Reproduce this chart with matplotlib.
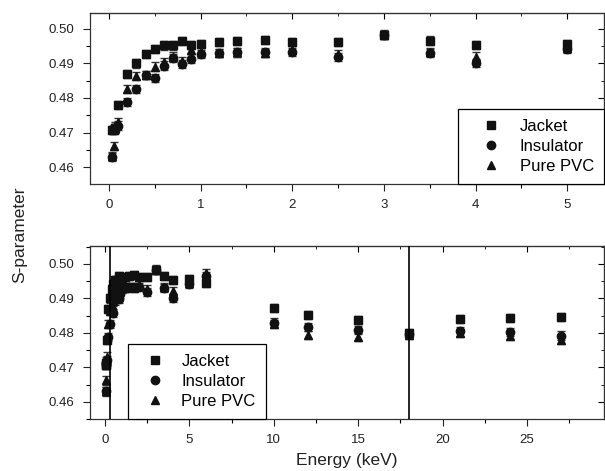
import numpy as np
import matplotlib
matplotlib.use('Agg')
import matplotlib.pyplot as plt

plt.rcParams['font.family'] = ['Liberation Sans', 'DejaVu Sans']

# energias (keV) do painel de cima
energia = [0.03, 0.05, 0.07, 0.1, 0.2, 0.3, 0.4, 0.5, 0.6, 0.7, 0.8, 0.9, 1.0,
           1.2, 1.4, 1.7, 2.0, 2.5, 3.0, 3.5, 4.0, 5.0]
jacket = [0.4707, 0.4708, 0.4712, 0.4780, 0.4870, 0.4900, 0.4927, 0.4942, 0.4952,
          0.4952, 0.4964, 0.4954, 0.4957, 0.4963, 0.4965, 0.4968, 0.4963, 0.4963,
          0.4983, 0.4966, 0.4953, 0.4955]
insulator = [0.4630, 0.4710, 0.4712, 0.4720, 0.4789, 0.4825, 0.4866, 0.4857, 0.4894,
             0.4915, 0.4898, 0.4914, 0.4928, 0.4931, 0.4932, 0.4932, 0.4934, 0.4918,
             0.4982, 0.4930, 0.4902, 0.4942]
pvc = [0.4632, 0.4662, 0.4718, 0.4731, 0.4825, 0.4864, 0.4866, 0.4891, 0.4903,
       0.4920, 0.4907, 0.4938, 0.4932, 0.4930, 0.4932, 0.4930, 0.4938, 0.4928,
       0.4984, 0.4934, 0.4920, 0.4945]

# pontos extras que aparecem so no painel de baixo
energia_alta = [6, 10, 12, 15, 18, 21, 24, 27]
jacket_alta = [0.4944, 0.4872, 0.4852, 0.4838, 0.4800, 0.4840, 0.4844, 0.4845]
insulator_alta = [0.4965, 0.4830, 0.4818, 0.4809, 0.4797, 0.4804, 0.4802, 0.4792]
pvc_alta = [0.4973, 0.4826, 0.4794, 0.4789, 0.4795, 0.4799, 0.4790, 0.4780]

erro = 0.0012
linhas_verticais = [0.3, 18]

series = [('Jacket', 's'), ('Insulator', 'o'), ('Pure PVC', '^')]

fig = plt.figure(figsize=(6.05, 4.71), dpi=100)
ax1 = fig.add_axes([90/605, 1-184/471, 514/605, 171/471])
ax2 = fig.add_axes([90/605, 1-419/471, 514/605, 173/471])

def desenha(ax, x, ys):
    handles = []
    for (nome, mk), y in zip(series, ys):
        ax.errorbar(x, y, yerr=erro, fmt='none', ecolor='#333333', elinewidth=1,
                    capsize=3, capthick=1, zorder=2)
        h, = ax.plot(x, y, mk, color='#111111', markersize=6, linestyle='none',
                     label=nome, zorder=3)
        handles.append(h)
    return handles

h = desenha(ax1, energia, [jacket, insulator, pvc])
desenha(ax2, energia + energia_alta,
        [jacket + jacket_alta, insulator + insulator_alta, pvc + pvc_alta])

for xv in linhas_verticais:
    ax2.axvline(xv, color='black', linewidth=1.2, zorder=4)

ax1.set_xlim(-0.207, 5.40)
ax1.set_ylim(0.4551, 0.5046)
ax2.set_xlim(-0.89, 29.56)
ax2.set_ylim(0.4550, 0.5052)

ax1.xaxis.set_major_locator(plt.MultipleLocator(1))
ax1.xaxis.set_minor_locator(plt.MultipleLocator(0.5))
ax2.xaxis.set_major_locator(plt.MultipleLocator(5))
ax2.xaxis.set_minor_locator(plt.MultipleLocator(2.5))

for ax in [ax1, ax2]:
    ax.yaxis.set_major_locator(plt.MultipleLocator(0.01))
    ax.yaxis.set_minor_locator(plt.MultipleLocator(0.005))
    ax.yaxis.set_major_formatter(plt.FormatStrFormatter('%.2f'))
    ax.tick_params(which='major', direction='out', length=5, width=0.8,
                   labelsize=9.5, colors='#222222', pad=6)
    ax.tick_params(which='minor', direction='out', length=3, width=0.8)
    for s in ax.spines.values():
        s.set_linewidth(0.9)
        s.set_color('#333333')
    # ticks espelhados para dentro em cima e na direita
    top = ax.secondary_xaxis('top')
    top.xaxis.set_major_locator(ax.xaxis.get_major_locator())
    top.xaxis.set_minor_locator(ax.xaxis.get_minor_locator())
    top.tick_params(which='both', direction='in', labeltop=False, length=4)
    top.tick_params(which='minor', length=2.5)
    right = ax.secondary_yaxis('right')
    right.yaxis.set_major_locator(plt.MultipleLocator(0.01))
    right.yaxis.set_minor_locator(plt.MultipleLocator(0.005))
    right.tick_params(which='both', direction='in', labelright=False, length=4)
    right.tick_params(which='minor', length=2.5)

leg1 = ax1.legend(handles=h, loc='lower right', borderaxespad=0, fontsize=12,
                  frameon=True, fancybox=False, edgecolor='black',
                  handletextpad=0.4, borderpad=0.6, labelspacing=0.3,
                  handlelength=2.7)
leg2 = ax2.legend(handles=h, loc='lower left', bbox_to_anchor=(0.074, 0.0),
                  borderaxespad=0, fontsize=12, frameon=True, fancybox=False,
                  edgecolor='black', handletextpad=0.6, borderpad=0.6,
                  labelspacing=0.3, handlelength=2.0)
for leg in [leg1, leg2]:
    leg.get_frame().set_linewidth(0.9)
    leg.get_frame().set_alpha(1)

ax2.set_xlabel('Energy (keV)', fontsize=12.5, color='#222222', labelpad=5)
fig.text(20/605, 1-235/471, 'S-parameter', rotation=90, fontsize=12.5,
         color='#222222', ha='center', va='center')

fig.savefig('out.png', dpi=100)
